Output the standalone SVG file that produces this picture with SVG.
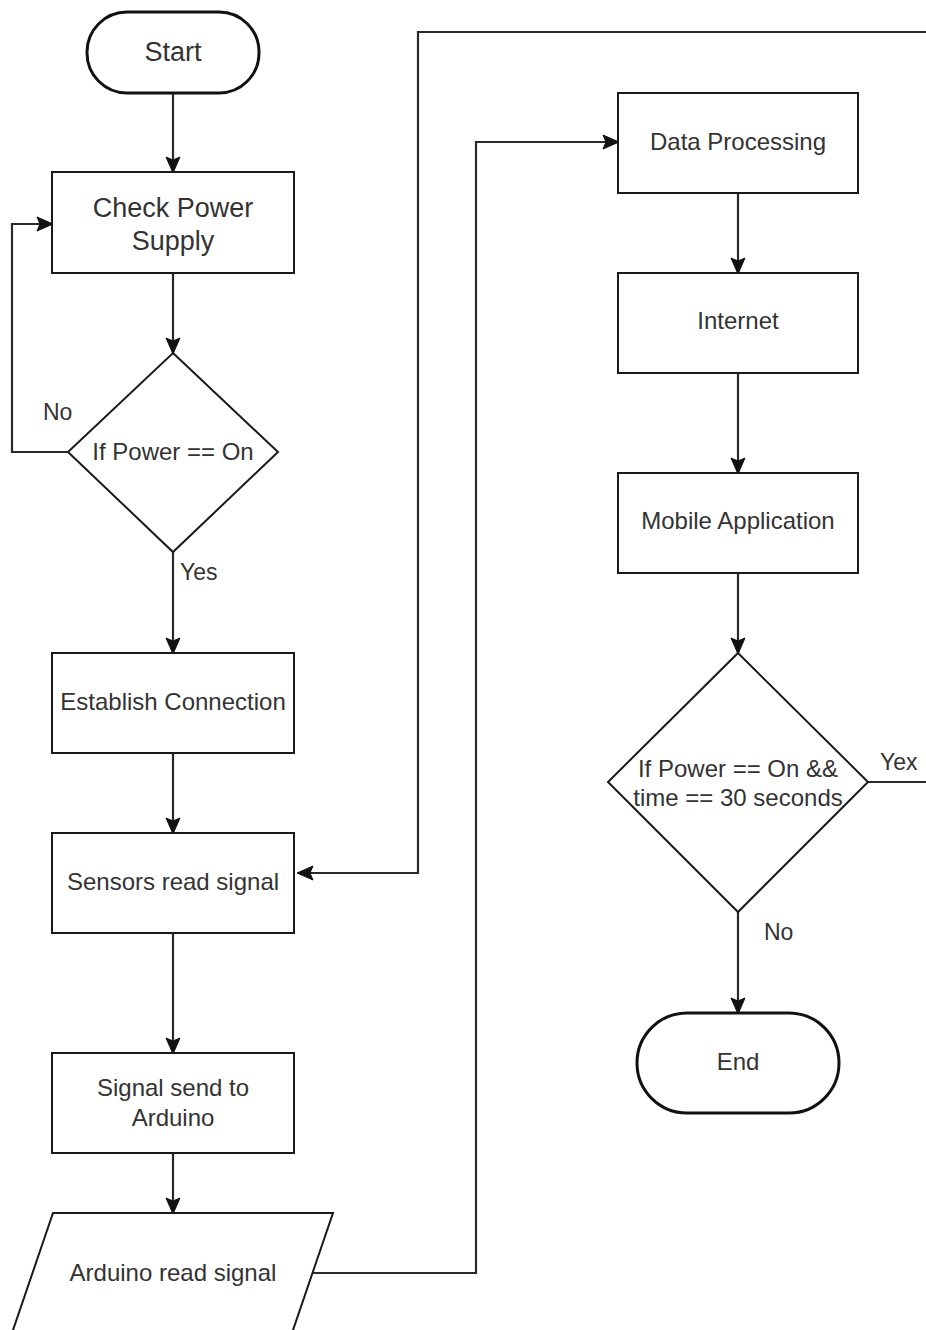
<svg xmlns="http://www.w3.org/2000/svg" width="926" height="1330" viewBox="0 0 926 1330">
  <style>
    .shape { fill: #ffffff; stroke: #1a1a1a; stroke-width: 2; }
    .term { fill: #ffffff; stroke: #111111; stroke-width: 3; }
    .edge { fill: none; stroke: #2a2a2a; stroke-width: 2.2; }
    .lbl { font-family: "Liberation Sans", Arial, sans-serif; font-size: 24px; fill: #333333; text-anchor: middle; }
    .big { font-size: 27px; }
    .elbl { font-family: "Liberation Sans", Arial, sans-serif; font-size: 23px; fill: #333333; }
  </style>
  <defs>
    <marker id="arrow" viewBox="0 0 16 14" refX="15" refY="7" markerWidth="16" markerHeight="14" markerUnits="userSpaceOnUse" orient="auto" overflow="visible">
      <path d="M0,0 L16,7 L0,14 L3,7 Z" fill="#111111" stroke="#111111" stroke-width="1" stroke-linejoin="round"/>
    </marker>
  </defs>
  <rect width="926" height="1330" fill="#ffffff"/>

  <!-- connectors -->
  <g id="connectors">
    <path class="edge" d="M173,93 V172" marker-end="url(#arrow)"/>
    <path class="edge" d="M173,273 V353" marker-end="url(#arrow)"/>
    <path class="edge" d="M68,452 H12 V224 H52" marker-end="url(#arrow)"/>
    <path class="edge" d="M173,552 V653" marker-end="url(#arrow)"/>
    <path class="edge" d="M173,753 V833" marker-end="url(#arrow)"/>
    <path class="edge" d="M173,933 V1053" marker-end="url(#arrow)"/>
    <path class="edge" d="M173,1153 V1213" marker-end="url(#arrow)"/>
    <path class="edge" d="M313,1273 H476 V142 H618" marker-end="url(#arrow)"/>
    <path class="edge" d="M738,193 V273" marker-end="url(#arrow)"/>
    <path class="edge" d="M738,373 V473" marker-end="url(#arrow)"/>
    <path class="edge" d="M738,573 V653" marker-end="url(#arrow)"/>
    <path class="edge" d="M738,912 V1013" marker-end="url(#arrow)"/>
    <path class="edge" d="M868,782 H950 V32 H418 V873 H298" marker-end="url(#arrow)"/>
    <text class="elbl" x="43" y="420">No</text>
    <text class="elbl" x="180" y="580">Yes</text>
    <text class="elbl" x="880" y="770">Yex</text>
    <text class="elbl" x="764" y="940">No</text>
  </g>

  <g id="start">
    <rect class="term" x="87" y="12" width="172" height="81" rx="40" ry="40"/>
    <text class="lbl big" x="173" y="61">Start</text>
  </g>
  <g id="check-power">
    <rect class="shape" x="52" y="172" width="242" height="101"/>
    <text class="lbl big" x="173" y="217">Check Power</text>
    <text class="lbl big" x="173" y="250">Supply</text>
  </g>
  <g id="power-decision">
    <polygon class="shape" points="173,353 278,452 173,552 68,452"/>
    <text class="lbl" x="173" y="460">If Power == On</text>
  </g>
  <g id="establish">
    <rect class="shape" x="52" y="653" width="242" height="100"/>
    <text class="lbl" x="173" y="710">Establish Connection</text>
  </g>
  <g id="sensors">
    <rect class="shape" x="52" y="833" width="242" height="100"/>
    <text class="lbl" x="173" y="890">Sensors read signal</text>
  </g>
  <g id="signal-send">
    <rect class="shape" x="52" y="1053" width="242" height="100"/>
    <text class="lbl" x="173" y="1096">Signal send to</text>
    <text class="lbl" x="173" y="1126">Arduino</text>
  </g>
  <g id="arduino-read">
    <polygon class="shape" points="53,1213 333,1213 292,1333 12,1333"/>
    <text class="lbl" x="173" y="1281">Arduino read signal</text>
  </g>
  <g id="data-processing">
    <rect class="shape" x="618" y="93" width="240" height="100"/>
    <text class="lbl" x="738" y="150">Data Processing</text>
  </g>
  <g id="internet">
    <rect class="shape" x="618" y="273" width="240" height="100"/>
    <text class="lbl" x="738" y="329">Internet</text>
  </g>
  <g id="mobile-app">
    <rect class="shape" x="618" y="473" width="240" height="100"/>
    <text class="lbl" x="738" y="529">Mobile Application</text>
  </g>
  <g id="time-decision">
    <polygon class="shape" points="738,653 868,782 738,912 608,782"/>
    <text class="lbl" x="738" y="777">If Power == On &amp;&amp;</text>
    <text class="lbl" x="738" y="806">time == 30 seconds</text>
  </g>
  <g id="end">
    <rect class="term" x="637" y="1013" width="202" height="100" rx="50" ry="50"/>
    <text class="lbl" x="738" y="1070">End</text>
  </g>
</svg>
